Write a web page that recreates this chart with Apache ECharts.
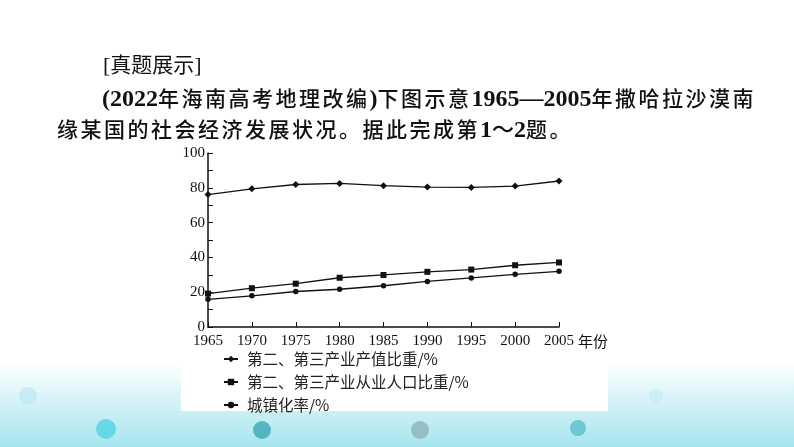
<!DOCTYPE html>
<html><head><meta charset="utf-8">
<script src="https://cdn.jsdelivr.net/npm/echarts@6/dist/echarts.min.js"></script>
<style>
html,body{margin:0;padding:0;background:#fff;}
#wrap{position:relative;width:794px;height:447px;overflow:hidden;}
#chart{position:absolute;left:0;top:0;width:794px;height:447px;}
.ln{position:absolute;white-space:nowrap;font-family:"Liberation Serif","Noto Sans CJK SC",serif;color:#111;line-height:1;}
.cjk{font-family:"Noto Sans CJK SC",sans-serif;font-weight:500;font-size:21px;letter-spacing:2.5px;}
.num{font-family:"Liberation Serif",serif;font-weight:bold;font-size:24px;letter-spacing:0;}
</style></head>
<body><div id="wrap"><div id="chart"></div>
<div class="ln" style="left:103px;top:53px;font-size:21px;"><span style="font-family:'Liberation Serif',serif;font-size:22px">[</span><span style="font-family:'Noto Sans CJK SC',sans-serif;font-weight:400">真题展示</span><span style="font-family:'Liberation Serif',serif;font-size:22px">]</span></div>
<div class="ln" style="left:102px;top:86px;"><span class="num">(2022</span><span class="cjk">年海南高考地理改编</span><span class="num">)</span><span class="cjk">下图示意</span><span class="num">1965—2005</span><span class="cjk">年撒哈拉沙漠南</span></div>
<div class="ln" style="left:57px;top:116px;"><span class="cjk">缘某国的社会经济发展状况。据此完成第</span><span class="num">1</span><span class="cjk" style="letter-spacing:0;font-size:22px">～</span><span class="num">2</span><span class="cjk">题。</span></div>
</div>
<script>
const years = ['1965','1970','1975','1980','1985','1990','1995','2000','2005'];
const valueShare = [76.1, 79.4, 81.9, 82.5, 81.2, 80.4, 80.2, 81.0, 83.9];
const employShare = [19.2, 22.3, 24.9, 28.3, 29.9, 31.7, 33.0, 35.5, 37.1];
const urbanRate = [15.9, 17.9, 20.4, 21.7, 23.7, 26.2, 28.2, 30.3, 32.0];
const seriesNames = ['第二、第三产业产值比重/%','第二、第三产业从业人口比重/%','城镇化率/%'];
const yTicks = [0,20,40,60,80,100];

const chart = echarts.init(document.getElementById('chart'), null, {renderer:'canvas'});
const serif = '"Liberation Serif", "Times New Roman", serif';
const lineStyle = {color:'#111', width:1.3};
function mk(name, data, symbol, size){
  return {name, type:'line', data, symbol, symbolSize:size, showSymbol:true,
    lineStyle, itemStyle:{color:'#111'}, animation:false};
}
function dot(x, y, r, color, op){
  return {type:'circle', silent:true, z:-9.5, shape:{cx:x, cy:y, r}, style:{fill:color, opacity:op}};
}
chart.setOption({
  animation:false,
  backgroundColor:'#ffffff',
  graphic:[
    {type:'rect', silent:true, z:-10, shape:{x:0,y:362,width:794,height:85},
      style:{fill:new echarts.graphic.LinearGradient(0,0,0,1,[{offset:0,color:'rgba(255,255,255,1)'},{offset:0.3,color:'#e3f7fa'},{offset:1,color:'#a6e5ee'}])}},
    dot(28, 396, 9, '#bfeaf2', 0.8),
    dot(106, 429, 10, '#5fd6e6', 0.9),
    dot(262, 430, 9, '#3aa8b8', 0.8),
    dot(420, 430, 9, '#8fb3b8', 0.8),
    dot(578, 428, 8, '#4fb8c8', 0.7),
    dot(656, 396, 7, '#c4ecf3', 0.7),
    {type:'rect', silent:true, z:-9, shape:{x:181,y:145,width:427,height:266}, style:{fill:'#ffffff'}}
  ],
  grid:{left:208, right:235, top:153, bottom:120, containLabel:false},
  legend:{
    orient:'vertical', left:223, top:351, padding:0, itemGap:7, itemWidth:14, itemHeight:8,
    data:seriesNames,
    textStyle:{fontFamily:'"Noto Sans CJK SC", sans-serif', fontSize:15.5, lineHeight:16, color:'#222', padding:[0,0,0,4]}
  },
  xAxis:{
    type:'category', data:years, boundaryGap:false,
    name:'年份', nameLocation:'end', nameGap:13,
    nameTextStyle:{fontFamily:'"Noto Sans CJK SC", sans-serif', fontSize:15, color:'#111', verticalAlign:'top', padding:[7,0,0,0]},
    axisLine:{lineStyle:{color:'#111', width:1.5}},
    axisTick:{inside:true, length:5, alignWithLabel:true, lineStyle:{color:'#111'}},
    axisLabel:{fontFamily:serif, fontSize:15, color:'#111', margin:7},
    splitLine:{show:false}
  },
  yAxis:{
    type:'value', min:0, max:100, interval:20,
    axisLine:{show:true, lineStyle:{color:'#111', width:1.5}},
    axisTick:{show:true, inside:true, length:5, lineStyle:{color:'#111'}},
    minorTick:{show:true, splitNumber:2, length:5, lineStyle:{color:'#111'}},
    axisLabel:{fontFamily:serif, fontSize:15, color:'#111', margin:3,
      formatter:v=>yTicks.includes(v)?String(v):''},
    splitLine:{show:false}
  },
  series:[
    mk(seriesNames[0], valueShare, 'diamond', 7),
    mk(seriesNames[1], employShare, 'rect', 6),
    mk(seriesNames[2], urbanRate, 'circle', 5.5)
  ]
});
</script></body></html>
